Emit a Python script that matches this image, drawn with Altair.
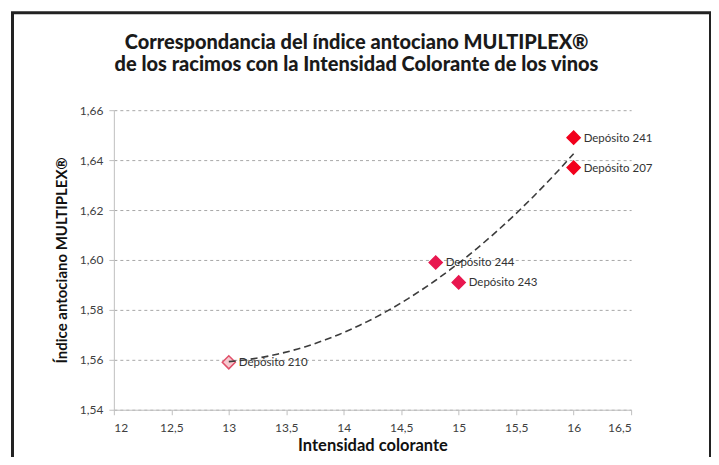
import altair as alt
import pandas as pd

# ---- data ----
depositos = ["Depósito 210", "Depósito 244", "Depósito 243", "Depósito 241", "Depósito 207"]
intensidad = [13.0, 14.8, 15.0, 16.0, 16.0]
indice = [1.559, 1.599, 1.591, 1.649, 1.637]
grupo = ["claro", "rosa", "rosa", "rojo", "rojo"]

x_ticks = [12, 12.5, 13, 13.5, 14, 14.5, 15, 15.5, 16, 16.5]
y_ticks = [1.54, 1.56, 1.58, 1.60, 1.62, 1.64, 1.66]

titulo = ["Correspondancia del índice antociano MULTIPLEX®",
          "de los racimos con la Intensidad Colorante de los vinos"]
x_titulo = "Intensidad colorante"
y_titulo = "Índice antociano MULTIPLEX®"

df = pd.DataFrame({"deposito": depositos, "intensidad": intensidad,
                   "indice": indice, "grupo": grupo})

xs = alt.Scale(domain=[12, 16.5], nice=False, zero=False)
ys = alt.Scale(domain=[1.54, 1.66], nice=False, zero=False)

x_axis = alt.Axis(values=x_ticks, grid=False,
                  labelExpr="replace(format(datum.value, '.1~f'), '.', ',')",
                  labelFont="Lato", labelFontSize=12, labelColor="#404040",
                  labelPadding=8,
                  domainColor="#bfbfbf", tickColor="#bfbfbf", tickSize=5,
                  title=x_titulo, titleFont="Lato", titleFontSize=16.5,
                  titleFontWeight="bold", titleColor="#111111", titlePadding=4)
y_axis = alt.Axis(values=y_ticks, grid=True, gridDash=[3, 3], gridColor="#a8a8a8",
                  labelExpr="replace(format(datum.value, '.2f'), '.', ',')",
                  labelFont="Lato", labelFontSize=12, labelColor="#404040",
                  labelPadding=6,
                  domainColor="#bfbfbf", tickColor="#bfbfbf", tickSize=5,
                  title=y_titulo, titleFont="Lato", titleFontSize=15,
                  titleFontWeight="bold", titleColor="#111111", titlePadding=10)

X = alt.X("intensidad:Q", scale=xs, axis=x_axis)
Y = alt.Y("indice:Q", scale=ys, axis=y_axis)

base = alt.Chart(df)

fill_scale = alt.Scale(domain=["claro", "rosa", "rojo"],
                       range=["#f6c9cf", "#e8174f", "#f2001c"])
stroke_scale = alt.Scale(domain=["claro", "rosa", "rojo"],
                         range=["#e0506a", "#e8174f", "#f2001c"])

points = base.mark_point(shape="diamond", filled=True, size=170, strokeWidth=1.5,
                         opacity=1).encode(
    x=X, y=Y,
    fill=alt.Fill("grupo:N", scale=fill_scale, legend=None),
    stroke=alt.Stroke("grupo:N", scale=stroke_scale, legend=None),
)

trend = base.transform_regression(
    "intensidad", "indice", method="poly", order=2, extent=[13, 16]
).mark_line(color="#3c3c3c", strokeWidth=1.6, strokeDash=[7, 4]).encode(x=X, y=Y)

labels = base.mark_text(align="left", baseline="middle", dx=10, dy=1,
                        font="Lato", fontSize=11.5, color="#333333").encode(
    x=X, y=Y, text="deposito:N",
)

single = alt.Chart(pd.DataFrame({"k": [0]}))

frame = single.mark_rect(
    fill="transparent", stroke="#222222", strokeWidth=3
).encode(x=alt.value(-101.5), x2=alt.value(597.5), y=alt.value(-97.5), y2=alt.value(420))

title = single.mark_text(
    align="center", baseline="alphabetic", font="Lato", fontSize=20,
    fontWeight=900, color="#1a1a1a", lineHeight=22
).encode(x=alt.value(243), y=alt.value(-61), text=alt.value(titulo))

chart = alt.layer(points, trend, labels, frame, title).properties(
    width=518, height=300,
    padding={"left": 106, "top": 102, "right": 80, "bottom": 47},
    autosize=alt.AutoSizeParams(type="none"),
    background="white",
).configure_view(stroke="transparent")

chart.save("out.html", embed_options={"renderer": "svg", "actions": False})
